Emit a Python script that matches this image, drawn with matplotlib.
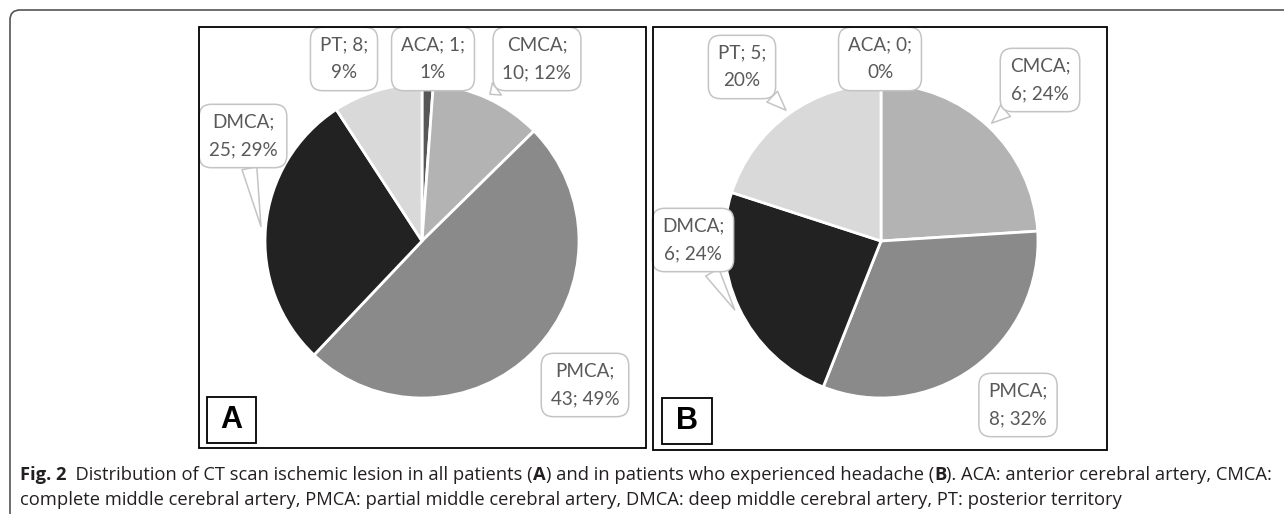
import matplotlib
matplotlib.use("Agg")
import matplotlib.pyplot as plt
from matplotlib.patches import FancyBboxPatch, Rectangle
import numpy as np

# ---------------- data ----------------
categories = ["ACA", "CMCA", "PMCA", "DMCA", "PT"]
counts_all = [1, 10, 43, 25, 8]          # panel A: all patients
counts_headache = [0, 6, 8, 6, 5]        # panel B: patients with headache
slice_colors = ["#575757", "#b3b3b3", "#8a8a8a", "#222222", "#d9d9d9"]

caption_segments_1 = [("Fig. 2", "bold"), ("  Distribution of CT scan ischemic lesion in all patients (", "normal"),
                      ("A", "bold"), (") and in patients who experienced headache (", "normal"), ("B", "bold"),
                      ("). ACA: anterior cerebral artery, CMCA:", "normal")]
caption_segments_2 = [("complete middle cerebral artery, PMCA: partial middle cerebral artery, DMCA: deep middle "
                       "cerebral artery, PT: posterior territory", "normal")]

W, H = 1284, 514
fig = plt.figure(figsize=(W / 100, H / 100), dpi=100)
fig.patch.set_facecolor("white")

LABEL_FONT = ["Lato", "DejaVu Sans"]
LABEL_SIZE = 13.6
LABEL_COLOR = "#595959"


def percents(counts):
    """Percentages rounded so they add up to 100 (largest remainder), as the chart shows."""
    total = float(sum(counts))
    raw = [100.0 * c / total for c in counts]
    fl = [int(np.floor(v)) for v in raw]
    rest = 100 - sum(fl)
    order = sorted(range(len(raw)), key=lambda i: raw[i] - fl[i], reverse=True)
    for i in order[:rest]:
        fl[i] += 1
    return fl


def label_text(name, val, pct):
    if len(name) <= 3:
        return f"{name}; {val};\n{pct}%"
    return f"{name};\n{val}; {pct}%"


def draw_panel(counts, center_px, r_px, label_pos, pointer, frame, letter_box, letter):
    cx, cy = center_px
    lim = 1.3
    size = 2 * lim * r_px
    ax = fig.add_axes([(cx - lim * r_px) / W, (H - cy - lim * r_px) / H, size / W, size / H])
    total = sum(counts)
    pcts = percents(counts)
    ax.pie(counts, colors=slice_colors, startangle=90, counterclock=False,
           wedgeprops=dict(edgecolor="white", linewidth=2.0), normalize=True)
    ax.set_xlim(-lim, lim)
    ax.set_ylim(-lim, lim)
    ax.set_aspect("equal")
    ax.axis("off")
    cum = 0.0
    for i, (name, val) in enumerate(zip(categories, counts)):
        frac_mid = (cum + val / 2.0) / total
        cum += val
        ang = np.deg2rad(90 - 360 * frac_mid)
        tip = (1.03 * np.cos(ang), 1.03 * np.sin(ang))
        tx, ty = label_pos[i]
        kw = dict(xy=tip, xycoords="data", xytext=(tx, H - ty), textcoords="figure pixels",
                  ha="center", va="center", fontsize=LABEL_SIZE, family=LABEL_FONT, color=LABEL_COLOR,
                  linespacing=1.75, annotation_clip=False,
                  bbox=dict(boxstyle="round,pad=0.5,rounding_size=0.65", fc="white", ec="#c4c4c4", lw=1.1))
        if pointer[i]:
            kw["arrowprops"] = dict(arrowstyle="wedge,tail_width=0.8,shrink_factor=0.5", fc="white",
                                    ec="#c4c4c4", lw=1.1, shrinkA=0, shrinkB=0)
        ax.annotate(label_text(name, val, pcts[i]), **kw)
    x0, y0, x1, y1 = frame
    fig.add_artist(Rectangle((x0 / 100, (H - y1) / 100), (x1 - x0) / 100, (y1 - y0) / 100,
                             transform=fig.dpi_scale_trans, fill=False, ec="black", lw=1.3))
    lx0, ly0, lx1, ly1 = letter_box
    fig.add_artist(Rectangle((lx0 / 100, (H - ly1) / 100), (lx1 - lx0) / 100, (ly1 - ly0) / 100,
                             transform=fig.dpi_scale_trans, fill=False, ec="black", lw=1.3))
    fig.text(((lx0 + lx1) / 2) / W, (H - (ly0 + ly1) / 2) / H, letter, ha="center", va="center",
             fontsize=22, fontweight="bold", family="Liberation Sans", color="black")


draw_panel(counts_all, (422, 241), 157,
           [(433, 59), (537, 59), (585, 385), (243, 136), (344, 59)],
           [False, True, False, True, False],
           (199, 27, 646, 448), (207, 397, 256, 443), "A")
draw_panel(counts_headache, (881, 241), 157,
           [(880, 59), (1040, 80), (1018, 405), (693, 240), (742, 67)],
           [False, True, False, True, True],
           (653, 27, 1107, 450), (662, 398, 712, 444), "B")

# outer frame (top + left edge with rounded corner)
fig.add_artist(FancyBboxPatch((0.10, -1.0), 14.0, 5.04 + 1.0, boxstyle="round,pad=0,rounding_size=0.10",
                              transform=fig.dpi_scale_trans, fill=False, ec="#555555", lw=1.2))

# caption
renderer = fig.canvas.get_renderer()
CAP_FONT = ["Open Sans", "DejaVu Sans"]


def seg_width(txt, weight, size):
    t1 = fig.text(0, 0, "|" + txt + "|", fontsize=size, fontweight=weight, family=CAP_FONT)
    t2 = fig.text(0, 0, "||", fontsize=size, fontweight=weight, family=CAP_FONT)
    w = t1.get_window_extent(renderer).width - t2.get_window_extent(renderer).width
    t1.remove(); t2.remove()
    return w


def draw_line(segs, x_px, base_px, size):
    x = x_px
    for txt, weight in segs:
        fig.text(x / W, (H - base_px) / H, txt, fontsize=size, fontweight=weight, family=CAP_FONT,
                 ha="left", va="baseline", color="#231f20")
        x += seg_width(txt, weight, size)


ref = 12.0
w1 = sum(seg_width(t, wt, ref) for t, wt in caption_segments_1)
cap_size = ref * 1245.0 / w1
draw_line(caption_segments_1, 20, 480, cap_size)
draw_line(caption_segments_2, 20, 505, cap_size)

fig.savefig("out.png", dpi=100, facecolor="white")
